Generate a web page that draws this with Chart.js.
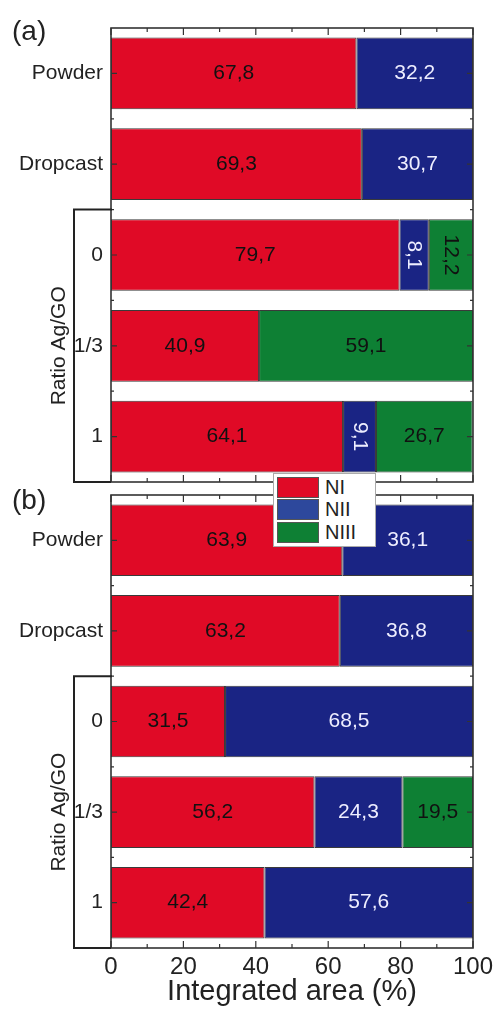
<!DOCTYPE html>
<html>
<head>
<meta charset="utf-8">
<script src="https://cdn.jsdelivr.net/npm/chart.js@4"></script>
<style>
  body { margin: 0; background: #fff; }
  #wrap { position: relative; width: 496px; height: 1009px; font-family: "Liberation Sans", Arial, sans-serif; }
  #chartA { position: absolute; left: 0; top: 0; }
  #chartB { position: absolute; left: 0; top: 489px; }
  .panel { position: absolute; left: 12px; font-size: 28px; color: #222; }
  #legend { position: absolute; left: 273px; top: 473px; width: 98px; background: #fff;
            border: 1px solid #aaa; padding: 2px 0 2px 3px; z-index: 5; }
  #legend div { height: 22.5px; display: flex; align-items: center; font-size: 20px; color: #222; }
  #legend span { display: inline-block; width: 40px; height: 19px; border: 1px solid #555; margin-right: 6px; }
</style>
</head>
<body>
<div id="wrap">
  <canvas id="chartA" width="496" height="490"></canvas>
  <canvas id="chartB" width="496" height="520"></canvas>
  <div class="panel" style="top:15px">(a)</div>
  <div class="panel" style="top:484px">(b)</div>
  <div id="legend"></div>
</div>
<script>
const categories = ["Powder", "Dropcast", "0", "1/3", "1"];
const seriesNames = ["NI", "NII", "NIII"];

// panel (a)
const niA = [67.8, 69.3, 79.7, 40.9, 64.1];
const niiA = [32.2, 30.7, 8.1, 0, 9.1];
const niiiA = [0, 0, 12.2, 59.1, 26.7];

// panel (b)
const niB = [63.9, 63.2, 31.5, 56.2, 42.4];
const niiB = [36.1, 36.8, 68.5, 24.3, 57.6];
const niiiB = [0, 0, 0, 19.5, 0];

const xTicks = [0, 20, 40, 60, 80, 100];

const barColors = ["#E00A26", "#1A2484", "#0E8034"];
const legendColors = ["#E00A26", "#2D489C", "#0E8034"];
const labelColors = ["#111", "#eef", "#111"];
const FONT = '"Liberation Sans", Arial, sans-serif';

// frame, inner ticks and the Ag/GO bracket
const framePlugin = {
    id: "frame",
    afterDatasetsDraw(chart) {
        const { ctx, chartArea: a, scales: { x, y } } = chart;
        ctx.save();
        ctx.strokeStyle = "#333";
        ctx.lineWidth = 1.2;
        ctx.beginPath();
        for (let v = 0; v <= 100; v += 10) {
            const px = x.getPixelForValue(v);
            const len = v % 20 === 0 ? 7 : 4;
            ctx.moveTo(px, a.top); ctx.lineTo(px, a.top + len);
            ctx.moveTo(px, a.bottom); ctx.lineTo(px, a.bottom - len);
        }
        for (let i = 0; i < categories.length; i++) {
            const py = y.getPixelForValue(i);
            ctx.moveTo(a.left, py); ctx.lineTo(a.left + 6, py);
            ctx.moveTo(a.right, py); ctx.lineTo(a.right - 6, py);
            if (i < categories.length - 1) {
                const pb = y.getPixelForValue(i + 0.5);
                ctx.moveTo(a.left, pb); ctx.lineTo(a.left + 3, pb);
                ctx.moveTo(a.right, pb); ctx.lineTo(a.right - 3, pb);
            }
        }
        ctx.stroke();

        ctx.lineWidth = 1.6;
        ctx.strokeRect(a.left, a.top, a.right - a.left, a.bottom - a.top);

        // bracket round the Ag/GO ratio rows
        const top = y.getPixelForValue(1.5);
        const bx = a.left - 37;
        ctx.strokeStyle = "#222";
        ctx.lineWidth = 2;
        ctx.beginPath();
        ctx.moveTo(a.left + 1, top);
        ctx.lineTo(bx, top);
        ctx.lineTo(bx, a.bottom);
        ctx.lineTo(a.left, a.bottom);
        ctx.stroke();

        ctx.translate(bx - 15, (top + a.bottom) / 2);
        ctx.rotate(-Math.PI / 2);
        ctx.fillStyle = "#222";
        ctx.font = "21px " + FONT;
        ctx.textAlign = "center";
        ctx.textBaseline = "middle";
        ctx.fillText("Ratio Ag/GO", 0, 0);
        ctx.restore();
    }
};

// values written inside the bars
const valuePlugin = {
    id: "values",
    afterDatasetsDraw(chart) {
        const ctx = chart.ctx;
        ctx.save();
        ctx.font = "21px " + FONT;
        ctx.textAlign = "center";
        ctx.textBaseline = "middle";
        chart.data.datasets.forEach((ds, di) => {
            const meta = chart.getDatasetMeta(di);
            meta.data.forEach((bar, i) => {
                const v = ds.data[i];
                if (!v) return;
                const txt = v.toFixed(1).replace(".", ",");
                const w = Math.abs(bar.x - bar.base);
                const cx = (bar.x + bar.base) / 2;
                ctx.fillStyle = labelColors[di];
                if (w < ctx.measureText(txt).width + 10) {
                    ctx.save();
                    ctx.translate(cx, bar.y);
                    ctx.rotate(Math.PI / 2);
                    ctx.fillText(txt, 0, 0);
                    ctx.restore();
                } else {
                    ctx.fillText(txt, cx, bar.y);
                }
            });
        });
        ctx.restore();
    }
};

function makeDatasets(a, b, c) {
    return [a, b, c].map((d, i) => ({
        label: seriesNames[i],
        data: d,
        backgroundColor: barColors[i],
        borderColor: "#3a3a3a",
        borderWidth: 1,
        borderSkipped: false,
        categoryPercentage: 1,
        barPercentage: 0.79
    }));
}

function makeChart(id, datasets, showX, padding) {
    return new Chart(document.getElementById(id), {
        type: "bar",
        data: { labels: categories, datasets: datasets },
        options: {
            responsive: false,
            animation: false,
            indexAxis: "y",
            layout: { padding: padding },
            plugins: { legend: { display: false }, tooltip: { enabled: false } },
            scales: {
                x: {
                    stacked: true,
                    min: 0,
                    max: 100,
                    display: showX,
                    grid: { display: false, drawTicks: false },
                    border: { display: false },
                    afterBuildTicks: (s) => { s.ticks = xTicks.map(v => ({ value: v })); },
                    afterFit: (s) => {
                        if (showX) s.height = 61;
                        s.paddingLeft = 0;
                        s.paddingRight = 0;
                    },
                    ticks: { font: { size: 24, family: FONT }, color: "#222", padding: 5 },
                    title: {
                        display: true,
                        text: "Integrated area (%)",
                        font: { size: 29, family: FONT },
                        color: "#222",
                        padding: 0
                    }
                },
                y: {
                    stacked: true,
                    grid: { display: false, drawTicks: false },
                    border: { display: false },
                    afterFit: (s) => {
                        s.width = 111;
                        s.paddingTop = 0;
                        s.paddingBottom = 0;
                    },
                    ticks: { font: { size: 21, family: FONT }, color: "#222", padding: 8 }
                }
            }
        },
        plugins: [framePlugin, valuePlugin]
    });
}

makeChart("chartA", makeDatasets(niA, niiA, niiiA), false, { top: 28, right: 23, bottom: 8, left: 0 });
makeChart("chartB", makeDatasets(niB, niiB, niiiB), true, { top: 6, right: 23, bottom: 0, left: 0 });

const legend = document.getElementById("legend");
seriesNames.forEach((name, i) => {
    const row = document.createElement("div");
    const sw = document.createElement("span");
    sw.style.background = legendColors[i];
    row.appendChild(sw);
    row.appendChild(document.createTextNode(name));
    legend.appendChild(row);
});
</script>
</body>
</html>
